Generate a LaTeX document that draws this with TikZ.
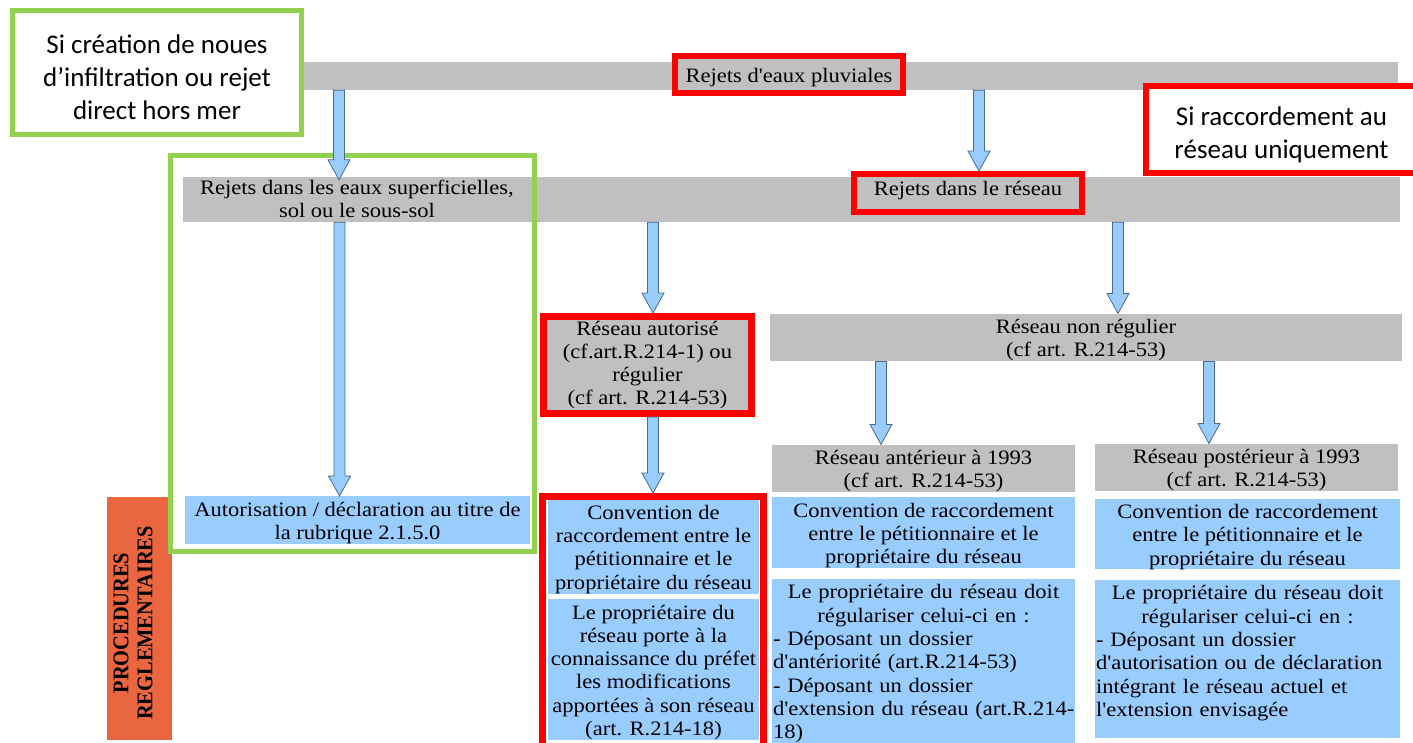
\documentclass[tikz,border=0pt]{standalone}
\usepackage{fontspec}
\setmainfont{Liberation Serif}[Ligatures=TeXOff, FakeStretch=1.1]
\newfontfamily\procfont{Liberation Serif}
\newfontfamily\calib{Carlito}
\usepackage{xcolor}
\usepackage{tikz}
\usetikzlibrary{calc}
\definecolor{barGray}{HTML}{C0C0C0}
\definecolor{boxBlue}{HTML}{99CCFF}
\definecolor{frameRed}{HTML}{FF0000}
\definecolor{frameGreen}{HTML}{92D050}
\definecolor{procOrange}{HTML}{EA6640}
\definecolor{arrEdge}{HTML}{4A6B8A}
\setlength{\parindent}{0pt}
% invisible struts to move a text block up or down a little
\newcommand{\serifgap}{\rule{0pt}{20pt}}
\newcommand{\notegap}{\rule{0pt}{28.5pt}}
\newcommand{\deepgap}[1]{\rule[-#1]{0pt}{0pt}}

\begin{document}
\begin{tikzpicture}[
  x=1pt, y=-1pt,
  txt/.style={font=\fontsize{20.5}{23.3}\selectfont, align=center, inner xsep=1pt, inner ysep=0pt},
  bar/.style={rectangle, fill=barGray, inner sep=0pt},
  graybox/.style={rectangle, fill=barGray, txt},
  bluebox/.style={rectangle, fill=boxBlue, txt},
  redframe/.style={rectangle, draw=frameRed, line width=6pt},
  greenframe/.style={rectangle, draw=frameGreen, line width=5pt},
  note/.style={font=\calib\fontsize{27}{33}\selectfont, align=center},
  arrow/.style={fill=boxBlue, draw=arrEdge, line width=0.8pt, to path={
    let \p1=(\tikztostart), \p2=(\tikztotarget) in
    (\x2-5.5pt,\y1) -- (\x2-5.5pt,\y2+20pt) -- (\x2-11pt,\y2+20pt) -- (\x2,\y2)
    -- (\x2+11pt,\y2+20pt) -- (\x2+5.5pt,\y2+20pt) -- (\x2+5.5pt,\y1) -- cycle}}
]
\useasboundingbox (0,0) rectangle (1413,742);

% Bandeaux gris
\node[bar, minimum width=1108, minimum height=28] (bar1) at (844,76) {};
\node[bar, minimum width=1217, minimum height=45] (bar2) at (791.5,199.5) {};

% Niveau 1
\node[greenframe, fill=white, note, minimum width=289, minimum height=124] (noues) at (157,72.5)
  {\notegap Si création de noues\\d’infiltration ou rejet\\direct hors mer};
\node[redframe, fill=barGray, txt, minimum width=228, minimum height=37] (pluviales) at (789,74.5)
  {\serifgap Rejets d'eaux pluviales};
\node[redframe, fill=white, note, minimum width=271, minimum height=87] (raccord) at (1281.5,129.5)
  {\notegap Si raccordement au\\réseau uniquement};

% Niveau 2
\node[txt] (surface) at (357,199) {Rejets dans les eaux superficielles,\\sol ou le sous-sol};
\node[redframe, fill=barGray, txt, minimum width=228, minimum height=38] (reseau) at (968,193)
  {Rejets dans le réseau\deepgap{9pt}};

% Niveau 3
\node[redframe, line width=7pt, fill=barGray, txt, minimum width=208, minimum height=97] (autorise) at (647.5,365)
  {Réseau autorisé\\(cf.art.R.214-1) ou\\régulier\\(cf art. R.214-53)};
\node[graybox, minimum width=632, minimum height=47] (nonregulier) at (1086,337.5)
  {\serifgap Réseau non régulier\\(cf art. R.214-53)};
\node[graybox, minimum width=303, minimum height=47] (anterieur) at (923.5,468.5)
  {\serifgap Réseau antérieur à 1993\\(cf art. R.214-53)};
\node[graybox, minimum width=303, minimum height=47] (posterieur) at (1246.5,467.5)
  {\serifgap Réseau postérieur à 1993\\(cf art. R.214-53)};

% Procedures
\node[fill=procOrange, rotate=90, yscale=1.1, minimum width=243, minimum height=59, align=center,
  font=\procfont\bfseries\fontsize{20.4}{21.8}\selectfont] (procedures) at (139.5,618.5)
  {PROCEDURES\hspace*{9pt}\\REGLEMENTAIRES\hspace*{9pt}\deepgap{12pt}};
\node[bluebox, minimum width=345, minimum height=46] (autorisation) at (357.5,520)
  {\serifgap Autorisation / déclaration au titre de\\la rubrique 2.1.5.0};

\node[bluebox, minimum width=211, minimum height=91] (conventionM) at (653.5,546.5)
  {\serifgap Convention de\\raccordement entre le\\pétitionnaire et le\\propriétaire du réseau};
\node[bluebox, minimum width=211, minimum height=141] (porte) at (653.5,669.5)
  {\serifgap Le propriétaire du\\réseau porte à la\\connaissance du préfet\\les modifications\\apportées à son réseau\\(art. R.214-18)};
\node[redframe, line width=7pt, minimum width=221, minimum height=260] (cadre) at (653,626.5) {};

\node[bluebox, minimum width=303, minimum height=71] (conventionA) at (923.5,532.5)
  {\serifgap Convention de raccordement\\entre le pétitionnaire et le\\propriétaire du réseau};
\node[bluebox, minimum width=305, minimum height=70] (conventionP) at (1247.5,534)
  {\serifgap Convention de raccordement\\entre le pétitionnaire et le\\propriétaire du réseau};

\node[bluebox, anchor=north, minimum width=303, minimum height=170] (regulA) at (923.5,579) {};
\node[txt, anchor=north, text width=301, align=left, yshift=-5.4pt] (regulAtxt) at (regulA.north)
  {{\centering Le propriétaire du réseau doit\\régulariser celui-ci en :\par}%
   - Déposant un dossier\\d'antériorité (art.R.214-53)\\- Déposant un dossier\\%
   \mbox{d'extension du réseau (art.R.214-}\\18)};
\node[bluebox, anchor=north, minimum width=305, minimum height=158] (regulP) at (1247.5,580) {};
\node[txt, anchor=north, text width=303, align=left, yshift=-5.4pt] (regulPtxt) at (regulP.north)
  {{\centering Le propriétaire du réseau doit\\régulariser celui-ci en :\par}%
   - Déposant un dossier\\d'autorisation ou de déclaration\\intégrant le réseau actuel et\\l'extension envisagée};

% Cadre vert
\node[greenframe, minimum width=364, minimum height=396] (zone) at (352.5,353.5) {};

% Fleches
\draw[arrow] (bar1.south) to ([xshift=-18]surface.north);
\draw[arrow] (bar1.south) to ([xshift=11]reseau.north);
\draw[arrow] (bar2.south) to ([xshift=-18]autorisation.north);
\draw[arrow] (bar2.south) to (autorise.north -| cadre);
\draw[arrow] (bar2.south) to ([xshift=32]nonregulier.north);
\draw[arrow] (nonregulier.south) to ([xshift=-42.5]anterieur.north);
\draw[arrow] (nonregulier.south) to ([xshift=-37.5]posterieur.north);
\draw[arrow] (autorise.south) to (cadre.north);

\end{tikzpicture}
\end{document}
